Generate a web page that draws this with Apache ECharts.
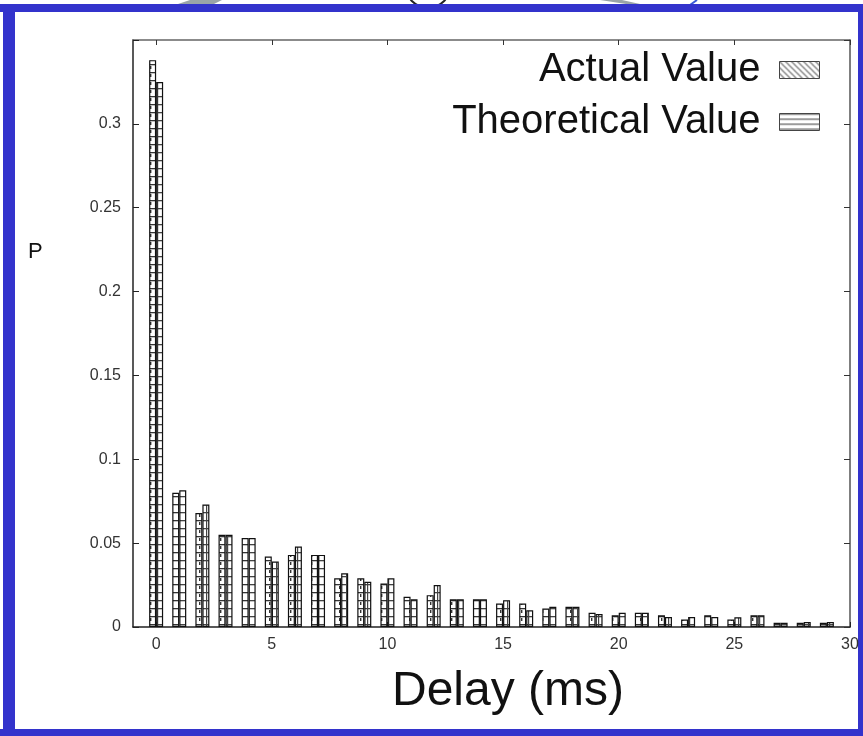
<!DOCTYPE html>
<html>
<head>
<meta charset="utf-8">
<script src="https://cdn.jsdelivr.net/npm/echarts@6/dist/echarts.min.js"></script>
<style>
  html, body { margin: 0; padding: 0; background: #fff; }
  #chartDiv { width: 863px; height: 736px; }
</style>
</head>
<body>
<div id="chartDiv"></div>
<script>
// delay values (ms) on the x axis
var delays = [0, 1, 2, 3, 4, 5, 6, 7, 8, 9, 10, 11, 12, 13, 14, 15, 16, 17, 18, 19, 20, 21, 22, 23, 24, 25, 26, 27, 28, 29];
// probability
var actualValues = [0.338, 0.080, 0.068, 0.055, 0.053, 0.042, 0.043, 0.043, 0.029, 0.029, 0.026, 0.018, 0.019, 0.0165, 0.0165, 0.014, 0.014, 0.011, 0.012, 0.0085, 0.007, 0.0085, 0.007, 0.0045, 0.007, 0.0045, 0.007, 0.0025, 0.0025, 0.0025];
var theoreticalValues = [0.325, 0.0815, 0.073, 0.055, 0.053, 0.039, 0.048, 0.043, 0.032, 0.027, 0.029, 0.0165, 0.025, 0.0165, 0.0165, 0.016, 0.010, 0.012, 0.012, 0.0077, 0.0085, 0.0085, 0.006, 0.006, 0.006, 0.0058, 0.007, 0.0025, 0.003, 0.003];
var xTicks = [0, 5, 10, 15, 20, 25, 30];
var seriesNames = ['Actual Value', 'Theoretical Value'];

// small hatch patterns
function makePattern(kind) {
    var c = document.createElement('canvas');
    var ctx;
    if (kind == 'diag') {
        c.width = 6; c.height = 6;
        ctx = c.getContext('2d');
        ctx.fillStyle = '#fff';
        ctx.fillRect(0, 0, 6, 6);
        ctx.strokeStyle = '#666';
        ctx.lineWidth = 1.2;
        ctx.beginPath();
        ctx.moveTo(-1, -1); ctx.lineTo(7, 7);
        ctx.moveTo(-4, 2); ctx.lineTo(4, 10);
        ctx.moveTo(2, -4); ctx.lineTo(10, 4);
        ctx.stroke();
    } else if (kind == 'hline') {
        c.width = 6; c.height = 5;
        ctx = c.getContext('2d');
        ctx.fillStyle = '#fff';
        ctx.fillRect(0, 0, 6, 5);
        ctx.fillStyle = '#666';
        ctx.fillRect(0, 0, 6, 1.3);
    } else if (kind == 'ladderA') {
        c.width = 7; c.height = 8;
        ctx = c.getContext('2d');
        ctx.fillStyle = '#fff';
        ctx.fillRect(0, 0, 7, 8);
        ctx.fillStyle = '#333';
        ctx.fillRect(0, 0, 7, 1.3);
        ctx.fillRect(3, 2, 1.4, 3);
    } else {
        c.width = 7; c.height = 8;
        ctx = c.getContext('2d');
        ctx.fillStyle = '#fff';
        ctx.fillRect(0, 0, 7, 8);
        ctx.fillStyle = '#444';
        ctx.fillRect(0, 0, 7, 1.3);
        ctx.fillRect(3, 0, 1.2, 8);
    }
    return { image: c, repeat: 'repeat' };
}

var actualData = [];
var theoreticalData = [];
for (var i = 0; i < delays.length; i++) {
    actualData.push([delays[i], actualValues[i]]);
    theoreticalData.push([delays[i], theoreticalValues[i]]);
}

var tickFont = 'Liberation Sans Narrow, Liberation Sans, Arial, sans-serif';

var dom = document.getElementById('chartDiv');
var myChart = echarts.init(dom, null, { renderer: 'canvas' });

var option = {
    backgroundColor: '#fff',
    animation: false,
    grid: { left: 133, right: 13, top: 40, bottom: 109 },
    legend: {
        orient: 'vertical',
        right: 43,
        top: 48,
        align: 'right',
        padding: 0,
        itemGap: 8,
        itemWidth: 40,
        itemHeight: 17,
        icon: 'rect',
        textStyle: {
            fontFamily: 'Liberation Sans, Arial, sans-serif',
            fontSize: 40,
            lineHeight: 44,
            color: '#111',
            padding: [0, 14, 0, 0]
        },
        data: [
            { name: seriesNames[0], itemStyle: { color: makePattern('diag'), borderColor: '#444', borderWidth: 1 } },
            { name: seriesNames[1], itemStyle: { color: makePattern('hline'), borderColor: '#444', borderWidth: 1 } }
        ]
    },
    xAxis: [
        {
            type: 'value',
            position: 'bottom',
            min: -1,
            max: 30,
            splitLine: { show: false },
            axisLine: { onZero: false, lineStyle: { color: '#222', width: 1.5 } },
            axisTick: { inside: true, length: 5, customValues: xTicks, lineStyle: { color: '#222' } },
            axisLabel: { customValues: xTicks, margin: 10, fontFamily: tickFont, fontSize: 16, color: '#333' }
        },
        {
            type: 'value',
            position: 'top',
            min: -1,
            max: 30,
            splitLine: { show: false },
            axisLine: { onZero: false, lineStyle: { color: '#666', width: 1.5 } },
            axisTick: { inside: true, length: 5, customValues: xTicks, lineStyle: { color: '#333' } },
            axisLabel: { show: false }
        }
    ],
    yAxis: [
        {
            type: 'value',
            position: 'left',
            min: 0,
            max: 0.35,
            interval: 0.05,
            splitLine: { show: false },
            axisLine: { show: true, onZero: false, lineStyle: { color: '#222', width: 1.5 } },
            axisTick: { show: true, inside: true, length: 6, lineStyle: { color: '#222' } },
            axisLabel: {
                margin: 12,
                fontFamily: tickFont,
                fontSize: 16,
                color: '#333',
                formatter: function (v) {
                    if (v > 0.31) return '';
                    return String(Math.round(v * 100) / 100);
                }
            }
        },
        {
            type: 'value',
            position: 'right',
            min: 0,
            max: 0.35,
            interval: 0.05,
            splitLine: { show: false },
            axisLine: { show: true, onZero: false, lineStyle: { color: '#555', width: 1.5 } },
            axisTick: { show: true, inside: true, length: 6, lineStyle: { color: '#333' } },
            axisLabel: { show: false }
        }
    ],
    series: [
        {
            name: seriesNames[0],
            type: 'bar',
            xAxisIndex: 0,
            yAxisIndex: 0,
            barWidth: 7,
            barGap: '0%',
            itemStyle: { color: makePattern('ladderA'), borderColor: '#111', borderWidth: 1.2 },
            data: actualData
        },
        {
            name: seriesNames[1],
            type: 'bar',
            xAxisIndex: 0,
            yAxisIndex: 0,
            barWidth: 7,
            barGap: '0%',
            itemStyle: { color: makePattern('ladderT'), borderColor: '#111', borderWidth: 1.2 },
            data: theoreticalData
        }
    ],
    graphic: [
        // decorative bits above the frame
        { type: 'polygon', shape: { points: [[178, 4], [190, 0], [222, 0], [214, 4]] }, style: { fill: '#9aa4a8' } },
        { type: 'circle', shape: { cx: 428, cy: -14, r: 22 }, style: { fill: 'none', stroke: '#222', lineWidth: 2 } },
        { type: 'polygon', shape: { points: [[600, 0], [622, 0], [640, 4], [626, 4]] }, style: { fill: '#9aa4a8' } },
        { type: 'line', shape: { x1: 690, y1: 5, x2: 697, y2: 0 }, style: { stroke: '#3a5bd6', lineWidth: 2 } },
        // blue frame
        { type: 'rect', shape: { x: 0, y: 4, width: 863, height: 8 }, style: { fill: '#3333cc' } },
        { type: 'rect', shape: { x: 3, y: 4, width: 12, height: 732 }, style: { fill: '#3333cc' } },
        { type: 'rect', shape: { x: 858, y: 4, width: 5, height: 732 }, style: { fill: '#3333cc' } },
        { type: 'rect', shape: { x: 0, y: 729, width: 863, height: 7 }, style: { fill: '#3333cc' } },
        // axis titles
        { type: 'text', left: 28, top: 241, style: { text: 'P', fontFamily: 'Liberation Sans, Arial, sans-serif', fontSize: 22, fill: '#111' } },
        { type: 'text', left: 392, top: 668, style: { text: 'Delay (ms)', fontFamily: 'Liberation Sans, Arial, sans-serif', fontSize: 48, fill: '#111' } }
    ]
};

myChart.setOption(option);
</script>
</body>
</html>
